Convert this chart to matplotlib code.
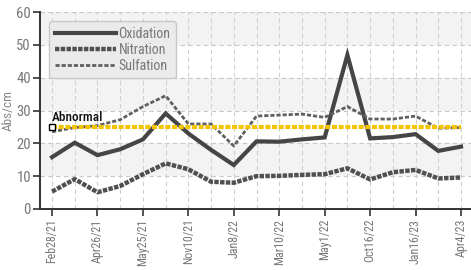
import matplotlib
matplotlib.use("Agg")
import matplotlib.pyplot as plt
from matplotlib import font_manager as fm

names = {f.name for f in fm.fontManager.ttflist}
cond = 'Roboto'
for cand in ('Liberation Sans Narrow', 'Roboto Condensed', 'Open Sans Condensed'):
    if cand in names:
        cond = cand
        break

dates = ["Feb28/21", "", "Apr26/21", "", "May25/21", "", "Nov10/21", "", "Jan8/22", "",
         "Mar10/22", "", "May1/22", "", "Oct16/22", "", "Jan16/23", "", "Apr4/23"]
oxidation = [15.8, 20.2, 16.4, 18.2, 21.2, 29.1, 23.0, 18.0, 13.4, 20.6, 20.5, 21.2, 21.8,
             46.9, 21.5, 21.9, 22.8, 17.7, 19.0]
nitration = [5.3, 9.1, 5.1, 7.0, 10.6, 13.9, 12.1, 8.3, 8.0, 10.0, 10.1, 10.4, 10.6,
             12.4, 9.0, 11.2, 11.9, 9.3, 9.6]
sulfation = [23.5, 24.8, 25.4, 27.2, 31.2, 34.5, 25.9, 25.9, 19.2, 28.3, 28.6, 28.9, 27.9,
             31.2, 27.4, 27.4, 28.3, 24.6, 24.8]
abnormal = 25
yticks = [0, 10, 20, 30, 40, 50, 60]

fig = plt.figure(figsize=(4.71, 2.70), dpi=100)
ax = fig.add_axes([40/471, 61/270, 431/471, 197/270])
x = list(range(len(dates)))

for lo in (10, 30, 50):
    ax.axhspan(lo, lo + 10, color='#f3f3f3', zorder=0, lw=0)
for yv in yticks[1:]:
    ax.axhline(yv, color='#c8c8c8', lw=0.8, ls=(0, (4, 3)), zorder=1)
for xv in x:
    ax.axvline(xv, color='#d0d0d0', lw=0.8, ls=(0, (4, 3)), zorder=1)

ax.plot(x, oxidation, color='#454545', lw=3.0, solid_joinstyle='miter', label='Oxidation', zorder=4)
ax.plot(x, nitration, color='#505050', lw=3.2, ls=(0, (1, 0.3)), label='Nitration', zorder=4)
ax.plot(x, sulfation, color='#606060', lw=2.0, ls=(0, (1.5, 0.7)), label='Sulfation', zorder=4)
ax.plot([x[0], x[-1]], [abnormal, abnormal], color='#f5c400', lw=3.0, ls=(0, (1.2, 0.4)), zorder=5)
ax.plot([x[0]], [abnormal], marker='s', ms=4.5, mfc='white', mec='black', mew=1.0, zorder=6)
ax.text(x[0], abnormal + 0.8, 'Abnormal', fontsize=9.5, color='#111111', family=cond,
        fontweight='medium', ha='left', va='bottom', zorder=6)

ax.set_xlim(-0.53, 18.44)
ax.set_ylim(0, 60)
ax.set_yticks(yticks)
ax.set_yticklabels([str(v) for v in yticks], family=cond, fontsize=10.5, color='#777777')
ax.set_xticks(x[::2])
ax.set_xticklabels(dates[::2], rotation=90, family=cond, fontsize=8.6, color='#777777')
ax.tick_params(axis='both', direction='out', length=5, width=1.2, color='#333333', pad=2)
ax.tick_params(axis='y', pad=1.5)
ax.set_ylabel('Abs/cm', family=cond, fontsize=9.5, color='#888888')
ax.yaxis.set_label_coords(-0.058, 0.5)
for s in ('top', 'right'):
    ax.spines[s].set_visible(False)
for s in ('left', 'bottom'):
    ax.spines[s].set_color('#333333')
    ax.spines[s].set_linewidth(1.4)

leg = ax.legend(loc='upper left', bbox_to_anchor=(0.021, 0.954), borderaxespad=0,
                handlelength=4.4, handletextpad=0.2, labelspacing=0.15, borderpad=0.4,
                fancybox=True, prop={'family': cond, 'size': 10}, labelcolor='#777777',
                framealpha=1)
leg.get_frame().set_facecolor('#ebebeb')
leg.get_frame().set_edgecolor('#c8c8c8')
leg.set_zorder(7)

fig.savefig('out.png', dpi=100)
